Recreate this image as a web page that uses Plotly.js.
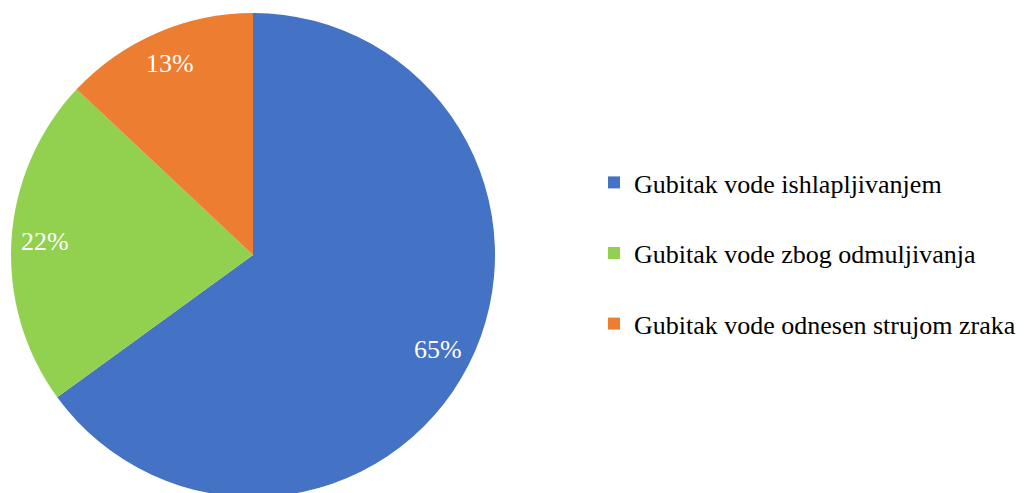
<!DOCTYPE html>
<html>
<head>
<meta charset="utf-8">
<script src="https://cdn.plot.ly/plotly-3.0.1.min.js"></script>
<style>
html,body{margin:0;padding:0;background:#fff;overflow:hidden;}
#chart{width:1032px;height:510px;}
</style>
</head>
<body>
<div id="chart"></div>
<script>
const labels = ["Gubitak vode ishlapljivanjem", "Gubitak vode zbog odmuljivanja", "Gubitak vode odnesen strujom zraka"];
const values = [65, 22, 13];
const colors = ["#4472C4", "#92D050", "#ED7D31"];

const W = 1032, H = 510;
const SERIF = "Liberation Serif";
const domX = [11 / W, 495 / W], domY = [13 / H, 497 / H];

const trace = {
  type: "pie",
  labels: labels.map(l => l + "<br>&nbsp;"),
  values: values,
  sort: false,
  direction: "clockwise",
  rotation: 0,
  marker: {colors: colors, line: {width: 0}},
  textinfo: "none",
  hoverinfo: "skip",
  domain: {x: domX, y: domY}
};

// percentage labels placed along each slice's mid-angle (computed from values)
const total = values.reduce((a, b) => a + b, 0);
const cx = (domX[0] + domX[1]) / 2, cy = (domY[0] + domY[1]) / 2;
const Rx = (domX[1] - domX[0]) / 2, Ry = (domY[1] - domY[0]) / 2;
const k = 0.86;
let cum = 0;
const annotations = values.map(v => {
  const mid = (cum + v / 2) / total * 2 * Math.PI;
  cum += v;
  return {
    xref: "paper", yref: "paper",
    x: cx + k * Rx * Math.sin(mid),
    y: cy + k * Ry * Math.cos(mid),
    xanchor: "center", yanchor: "middle",
    text: Math.round(v / total * 100) + "%",
    showarrow: false,
    font: {family: SERIF, size: 26, color: "#ffffff"}
  };
});

const layout = {
  width: W,
  height: H,
  margin: {l: 0, r: 0, t: 0, b: 0},
  paper_bgcolor: "#ffffff",
  font: {family: SERIF},
  showlegend: true,
  annotations: annotations,
  legend: {
    x: 594 / W,
    xanchor: "left",
    y: 1 - 159 / H,
    yanchor: "top",
    valign: "top",
    font: {family: SERIF, size: 26, color: "#000000"},
    bgcolor: "rgba(0,0,0,0)",
    borderwidth: 0
  }
};

Plotly.newPlot("chart", [trace], layout, {displayModeBar: false, staticPlot: true});
</script>
</body>
</html>
